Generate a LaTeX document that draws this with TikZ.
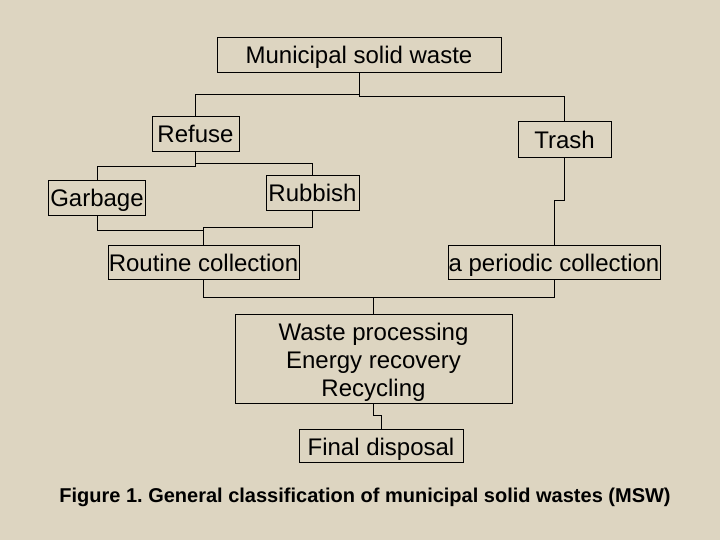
\documentclass[tikz,border=0pt]{standalone}
\usepackage{fontspec}
\setmainfont{Liberation Sans}
\definecolor{bg}{RGB}{221,213,193}
\frenchspacing
\begin{document}
\begin{tikzpicture}[x=1pt,y=-1pt,
  box/.style={draw=black,line width=0.9pt,inner sep=0pt,align=center,font=\fontsize{24}{28}\selectfont},
  onebox/.style={box,text height=19pt,text depth=0pt},
  link/.style={draw=black,line width=0.9pt}]
\fill[bg] (0,0) rectangle (720,540);
\useasboundingbox (0,0) rectangle (720,540);
\node[onebox,minimum width=284pt,minimum height=35pt] (msw) at (359,54.5) {Municipal solid waste};
\node[onebox,minimum width=87pt,minimum height=35pt] (refuse) at (195.5,133.5) {Refuse};
\node[onebox,minimum width=93pt,minimum height=36pt] (trash) at (564.5,139) {Trash};
\node[onebox,minimum width=97pt,minimum height=35pt] (garbage) at (97,197.5) {Garbage};
\node[onebox,minimum width=93pt,minimum height=35pt] (rubbish) at (312.5,192.5) {Rubbish};
\node[onebox,minimum width=191pt,minimum height=34pt] (routine) at (203.5,262) {Routine collection};
\node[onebox,minimum width=212pt,minimum height=34pt] (periodic) at (554,262) {a periodic collection};
\node[box,minimum width=277pt,minimum height=89pt] (proc) at (373.5,358.5) {\rule{0pt}{25.5pt}Waste processing\\Energy recovery\\Recycling};
\node[onebox,minimum width=164pt,minimum height=33pt] (final) at (381,445.5) {Final disposal};
\node[font=\fontsize{20}{24}\selectfont\bfseries] (cap) at (365,497) {Figure 1. General classification of municipal solid wastes (MSW)};
\coordinate (ya) at (0,94);
\coordinate (yb) at (0,96);
\coordinate (yc) at (0,166);
\coordinate (yd) at (0,163);
\coordinate (ye) at (0,230);
\coordinate (yf) at (0,227);
\coordinate (yg) at (0,200);
\coordinate (yh) at (0,297);
\coordinate (yi) at (0,415);
\draw[link] (msw.south) |- (refuse.north |- ya) -- (refuse.north);
\draw[link] (msw.south) |- (trash.north |- yb) -- (trash.north);
\draw[link] (refuse.south) |- (garbage.north |- yc) -- (garbage.north);
\draw[link] (refuse.south) |- (rubbish.north |- yd) -- (rubbish.north);
\draw[link] (garbage.south) |- (routine.north |- ye) -- (routine.north);
\draw[link] (rubbish.south) |- (routine.north |- yf) -- (routine.north);
\draw[link] (trash.south) |- (periodic.north |- yg) -- (periodic.north);
\draw[link] (routine.south) |- (proc.north |- yh) -- (proc.north);
\draw[link] (periodic.south) |- (proc.north |- yh);
\draw[link] (proc.south) |- (final.north |- yi) -- (final.north);
\end{tikzpicture}
\end{document}
